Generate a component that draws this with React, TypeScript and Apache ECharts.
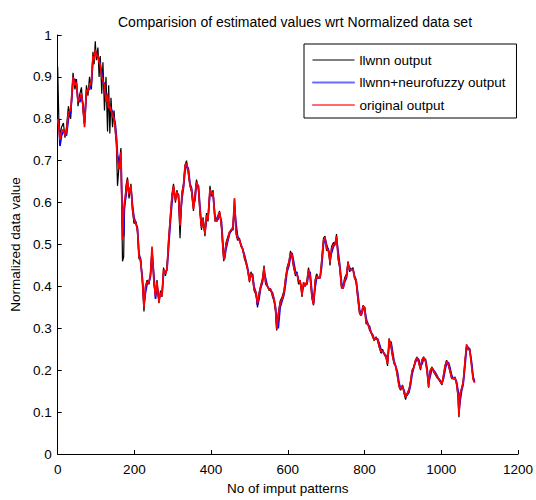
import React, { useEffect, useRef } from "react";
import * as echarts from "echarts";

const titleText = "Comparision of estimated values wrt Normalized data set";
const xAxisName = "No of imput patterns";
const yAxisName = "Normalized data value";
const seriesNames = ["llwnn output", "llwnn+neurofuzzy output", "original output"];

const patterns = [
  0, 3, 6, 10, 15, 19, 23, 28, 34, 40,
  45, 49, 53, 58, 62, 66, 70, 75, 79, 83,
  88, 92, 95, 98, 101, 105, 108, 111, 115, 118,
  122, 126, 130, 133, 136, 139, 143, 147, 150, 153,
  156, 161, 165, 169, 172, 174, 178, 182, 186, 191,
  195, 199, 204, 208, 212, 216, 221, 225, 229, 233,
  238, 242, 246, 251, 255, 259, 264, 268, 272, 276,
  281, 285, 289, 294, 298, 302, 307, 311, 315, 319,
  324, 328, 332, 336, 341, 345, 349, 354, 358, 362,
  367, 371, 375, 379, 384, 388, 392, 397, 401, 405,
  410, 414, 418, 422, 427, 431, 433, 435, 439, 444,
  448, 452, 457, 461, 465, 469, 474, 478, 482, 487,
  491, 495, 500, 504, 508, 512, 517, 521, 525, 529,
  534, 538, 542, 547, 551, 555, 560, 564, 568, 571,
  575, 580, 585, 590, 594, 598, 603, 607, 611, 615,
  620, 624, 628, 632, 637, 641, 645, 650, 654, 658,
  663, 667, 671, 675, 680, 684, 688, 693, 697, 701,
  706, 710, 714, 719, 723, 727, 731, 735, 740, 744,
  748, 753, 757, 761, 765, 770, 774, 778, 783, 787,
  791, 796, 800, 804, 808, 813, 817, 821, 825, 830,
  834, 838, 843, 847, 851, 856, 860, 864, 869, 873,
  877, 881, 886, 890, 894, 899, 903, 907, 911, 916,
  920, 924, 928, 933, 937, 941, 946, 950, 954, 959,
  963, 967, 971, 976, 980, 984, 989, 993, 997, 1002,
  1006, 1010, 1014, 1019, 1023, 1027, 1031, 1036, 1040, 1044,
  1046, 1049, 1053, 1057, 1062, 1066, 1070, 1074, 1079, 1083,
  1087,
];

const originalOutput = [
  0.80, 0.78, 0.75, 0.77, 0.775, 0.76, 0.77, 0.815, 0.82, 0.90,
  0.88, 0.887, 0.84, 0.85, 0.86, 0.83, 0.78, 0.87, 0.865, 0.878,
  0.89, 0.95, 0.94, 0.965, 0.95, 0.95, 0.935, 0.93, 0.90, 0.89,
  0.88, 0.84, 0.86, 0.825, 0.83, 0.82, 0.81, 0.80, 0.78, 0.75,
  0.70, 0.68, 0.72, 0.51, 0.58, 0.60, 0.625, 0.655, 0.62, 0.64,
  0.585, 0.56, 0.55, 0.535, 0.47, 0.465, 0.41, 0.35, 0.40, 0.41,
  0.41, 0.43, 0.495, 0.41, 0.377, 0.41, 0.362, 0.385, 0.377, 0.44,
  0.43, 0.44, 0.505, 0.568, 0.615, 0.64, 0.605, 0.625, 0.615, 0.545,
  0.62, 0.64, 0.687, 0.695, 0.672, 0.64, 0.63, 0.585, 0.615, 0.65,
  0.635, 0.58, 0.54, 0.56, 0.525, 0.57, 0.56, 0.632, 0.62, 0.625,
  0.56, 0.555, 0.565, 0.577, 0.545, 0.49, 0.465, 0.47, 0.50, 0.515,
  0.53, 0.534, 0.54, 0.61, 0.53, 0.515, 0.51, 0.497, 0.49, 0.47,
  0.457, 0.44, 0.413, 0.43, 0.425, 0.393, 0.385, 0.36, 0.38, 0.40,
  0.415, 0.445, 0.41, 0.40, 0.393, 0.393, 0.38, 0.37, 0.345, 0.298,
  0.33, 0.36, 0.37, 0.385, 0.417, 0.44, 0.457, 0.48, 0.475, 0.45,
  0.43, 0.43, 0.41, 0.414, 0.38, 0.41, 0.40, 0.41, 0.44, 0.425,
  0.375, 0.357, 0.41, 0.425, 0.42, 0.42, 0.457, 0.51, 0.517, 0.49,
  0.485, 0.457, 0.49, 0.50, 0.50, 0.52, 0.47, 0.45, 0.40, 0.395,
  0.415, 0.425, 0.457, 0.44, 0.44, 0.44, 0.42, 0.415, 0.37, 0.338,
  0.33, 0.353, 0.35, 0.315, 0.31, 0.30, 0.29, 0.282, 0.272, 0.277,
  0.274, 0.258, 0.244, 0.246, 0.24, 0.232, 0.215, 0.274, 0.26, 0.235,
  0.218, 0.21, 0.186, 0.162, 0.155, 0.163, 0.147, 0.135, 0.143, 0.152,
  0.172, 0.199, 0.205, 0.224, 0.23, 0.22, 0.203, 0.224, 0.23, 0.222,
  0.198, 0.16, 0.198, 0.206, 0.198, 0.192, 0.184, 0.18, 0.174, 0.167,
  0.188, 0.21, 0.222, 0.212, 0.198, 0.182, 0.18, 0.182, 0.167, 0.139,
  0.09, 0.143, 0.155, 0.17, 0.222, 0.262, 0.25, 0.25, 0.21, 0.178,
  0.17,
];

const llwnnNeurofuzzyOutput = [
  0.79, 0.80, 0.735, 0.76, 0.77, 0.765, 0.76, 0.80, 0.815, 0.89,
  0.895, 0.88, 0.845, 0.84, 0.855, 0.835, 0.79, 0.86, 0.87, 0.87,
  0.885, 0.94, 0.95, 0.955, 0.96, 0.945, 0.945, 0.925, 0.91, 0.885,
  0.885, 0.85, 0.845, 0.835, 0.82, 0.825, 0.815, 0.80, 0.79, 0.76,
  0.715, 0.69, 0.705, 0.55, 0.52, 0.59, 0.615, 0.645, 0.63, 0.635,
  0.595, 0.565, 0.55, 0.54, 0.48, 0.46, 0.42, 0.36, 0.385, 0.405,
  0.41, 0.425, 0.48, 0.425, 0.37, 0.40, 0.37, 0.38, 0.38, 0.43,
  0.435, 0.44, 0.49, 0.555, 0.60, 0.635, 0.61, 0.62, 0.62, 0.555,
  0.61, 0.635, 0.675, 0.69, 0.68, 0.645, 0.635, 0.595, 0.605, 0.645,
  0.64, 0.59, 0.545, 0.555, 0.53, 0.56, 0.565, 0.62, 0.625, 0.62,
  0.57, 0.555, 0.56, 0.575, 0.555, 0.50, 0.475, 0.465, 0.49, 0.51,
  0.525, 0.535, 0.535, 0.59, 0.55, 0.52, 0.51, 0.50, 0.49, 0.475,
  0.46, 0.445, 0.42, 0.425, 0.43, 0.40, 0.385, 0.355, 0.37, 0.395,
  0.41, 0.435, 0.42, 0.40, 0.395, 0.39, 0.385, 0.37, 0.35, 0.31,
  0.30, 0.35, 0.365, 0.38, 0.405, 0.435, 0.45, 0.47, 0.48, 0.46,
  0.435, 0.43, 0.415, 0.41, 0.39, 0.40, 0.405, 0.405, 0.43, 0.435,
  0.385, 0.36, 0.395, 0.42, 0.42, 0.42, 0.445, 0.50, 0.515, 0.50,
  0.485, 0.465, 0.48, 0.495, 0.50, 0.515, 0.485, 0.455, 0.41, 0.395,
  0.41, 0.42, 0.45, 0.445, 0.44, 0.44, 0.425, 0.415, 0.38, 0.345,
  0.33, 0.345, 0.35, 0.325, 0.31, 0.305, 0.29, 0.285, 0.275, 0.275,
  0.275, 0.265, 0.25, 0.245, 0.24, 0.235, 0.22, 0.26, 0.268, 0.245,
  0.222, 0.21, 0.195, 0.17, 0.155, 0.16, 0.152, 0.138, 0.14, 0.148,
  0.165, 0.19, 0.205, 0.22, 0.228, 0.226, 0.21, 0.215, 0.228, 0.226,
  0.205, 0.17, 0.185, 0.205, 0.2, 0.195, 0.187, 0.18, 0.176, 0.17,
  0.18, 0.2, 0.218, 0.218, 0.205, 0.188, 0.18, 0.18, 0.172, 0.15,
  0.1, 0.125, 0.15, 0.165, 0.21, 0.255, 0.255, 0.25, 0.22, 0.185,
  0.172,
];

const llwnnOutput = [
  0.925, 0.80, 0.76, 0.78, 0.79, 0.755, 0.78, 0.83, 0.80, 0.91,
  0.87, 0.895, 0.83, 0.86, 0.875, 0.82, 0.785, 0.88, 0.855, 0.90,
  0.87, 0.96, 0.93, 0.985, 0.94, 0.97, 0.90, 0.95, 0.86, 0.935,
  0.82, 0.90, 0.77, 0.88, 0.765, 0.85, 0.78, 0.82, 0.77, 0.74,
  0.64, 0.70, 0.73, 0.46, 0.47, 0.58, 0.64, 0.66, 0.61, 0.645,
  0.58, 0.55, 0.555, 0.53, 0.465, 0.47, 0.41, 0.34, 0.40, 0.415,
  0.405, 0.43, 0.49, 0.405, 0.38, 0.415, 0.36, 0.39, 0.375, 0.445,
  0.425, 0.445, 0.51, 0.57, 0.62, 0.645, 0.60, 0.63, 0.61, 0.515,
  0.625, 0.645, 0.69, 0.70, 0.665, 0.64, 0.625, 0.58, 0.62, 0.655,
  0.63, 0.575, 0.535, 0.565, 0.52, 0.575, 0.555, 0.64, 0.615, 0.63,
  0.555, 0.56, 0.57, 0.58, 0.54, 0.485, 0.46, 0.475, 0.505, 0.52,
  0.53, 0.53, 0.545, 0.61, 0.525, 0.51, 0.515, 0.495, 0.49, 0.465,
  0.455, 0.44, 0.41, 0.435, 0.42, 0.39, 0.38, 0.35, 0.385, 0.40,
  0.42, 0.45, 0.405, 0.40, 0.39, 0.395, 0.375, 0.365, 0.34, 0.295,
  0.335, 0.365, 0.375, 0.39, 0.42, 0.445, 0.46, 0.485, 0.47, 0.445,
  0.425, 0.435, 0.405, 0.415, 0.375, 0.41, 0.40, 0.415, 0.445, 0.42,
  0.37, 0.355, 0.415, 0.43, 0.42, 0.42, 0.46, 0.515, 0.52, 0.485,
  0.49, 0.45, 0.495, 0.505, 0.50, 0.525, 0.465, 0.445, 0.395, 0.40,
  0.42, 0.43, 0.46, 0.435, 0.44, 0.445, 0.42, 0.41, 0.365, 0.335,
  0.33, 0.355, 0.35, 0.31, 0.315, 0.295, 0.29, 0.28, 0.27, 0.28,
  0.27, 0.255, 0.24, 0.25, 0.238, 0.23, 0.21, 0.276, 0.255, 0.232,
  0.215, 0.21, 0.183, 0.16, 0.152, 0.165, 0.145, 0.13, 0.145, 0.155,
  0.175, 0.20, 0.207, 0.225, 0.232, 0.218, 0.20, 0.226, 0.232, 0.22,
  0.195, 0.158, 0.2, 0.208, 0.196, 0.19, 0.182, 0.178, 0.172, 0.165,
  0.19, 0.212, 0.224, 0.21, 0.195, 0.18, 0.18, 0.184, 0.165, 0.135,
  0.088, 0.145, 0.157, 0.172, 0.225, 0.258, 0.248, 0.252, 0.212, 0.18,
  0.175,
];

const FONT = "'Liberation Sans', Arial, Helvetica, sans-serif";

export default function App() {
  const ref = useRef<HTMLDivElement>(null);

  useEffect(() => {
    if (!ref.current) return;
    const chart = echarts.init(ref.current, undefined, { renderer: "svg" });
    const pairs = (ys: number[]) => patterns.map((x, i) => [x, ys[i]]);
    const colors = ["#000000", "#0000ff", "#ff0000"];
    const legendColors = ["#000000", "#6a6aff", "#ff6a6a"];
    const widths = [1.2, 1.7, 1.7];
    const datasets = [llwnnOutput, llwnnNeurofuzzyOutput, originalOutput];

    chart.setOption({
      animation: false,
      backgroundColor: "#ffffff",
      textStyle: { fontFamily: FONT, color: "#000" },
      title: {
        text: titleText,
        left: 290,
        top: 10,
        textAlign: "center",
        textStyle: { fontFamily: FONT, fontSize: 14, fontWeight: "normal", color: "#000" },
      },
      grid: { left: 57.6, right: 12.2, top: 35, bottom: 45, containLabel: false },
      legend: {
        left: 304,
        top: 44,
        orient: "vertical",
        backgroundColor: "#ffffff",
        borderColor: "#000",
        borderWidth: 1,
        borderRadius: 0,
        padding: [8, 11, 5, 8],
        itemGap: 6.5,
        itemWidth: 42,
        itemHeight: 1,
        icon: "rect",
        textStyle: { fontFamily: FONT, fontSize: 13.5, color: "#000", lineHeight: 16 },
        data: seriesNames.map((n, i) => ({
          name: n,
          itemStyle:
            i === 0
              ? { color: legendColors[i], borderWidth: 0 }
              : { color: legendColors[i], borderColor: legendColors[i], borderWidth: 1 },
        })),
      },
      xAxis: {
        type: "value",
        min: 0,
        max: 1200,
        interval: 200,
        name: xAxisName,
        nameLocation: "middle",
        nameGap: 27,
        nameTextStyle: { fontFamily: FONT, fontSize: 13.5, color: "#000" },
        axisLine: { show: true, lineStyle: { color: "#000", width: 1 } },
        axisTick: { show: true, inside: true, length: 4, lineStyle: { color: "#000" } },
        axisLabel: {
          margin: 8,
          fontFamily: FONT,
          fontSize: 13.5,
          color: "#000",
          formatter: (v: number) => String(v),
        },
        splitLine: { show: false },
      },
      yAxis: {
        type: "value",
        min: 0,
        max: 1,
        interval: 0.1,
        name: yAxisName,
        nameLocation: "middle",
        nameGap: 33,
        nameTextStyle: { fontFamily: FONT, fontSize: 13.5, color: "#000" },
        axisLine: { show: true, lineStyle: { color: "#000", width: 1 } },
        axisTick: { show: true, inside: true, length: 4, lineStyle: { color: "#000" } },
        axisLabel: {
          margin: 6,
          fontFamily: FONT,
          fontSize: 13.5,
          color: "#000",
          formatter: (v: number) => String(Math.round(v * 10) / 10),
        },
        splitLine: { show: false },
      },
      series: datasets.map((ys, i) => ({
        name: seriesNames[i],
        type: "line",
        data: pairs(ys),
        symbol: "none",
        color: colors[i],
        lineStyle: { color: colors[i], width: widths[i] },
        z: 2 + i,
      })),
    });

    return () => chart.dispose();
  }, []);

  return (
    <div
      ref={ref}
      style={{ position: "fixed", left: 0, top: 0, width: 536, height: 500, background: "#fff" }}
    />
  );
}
